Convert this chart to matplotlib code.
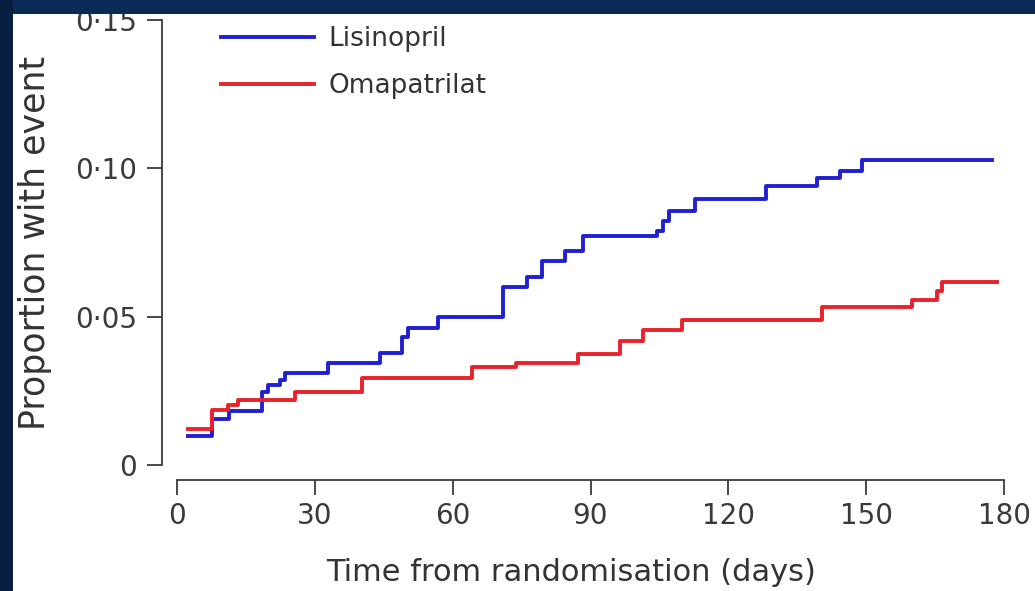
import matplotlib
matplotlib.use("Agg")
import matplotlib.pyplot as plt
from matplotlib.patches import Rectangle

# Kaplan-Meier style step data (days, proportion with event)
lis_days = [2.4, 7.6, 11.3, 18.5, 19.8, 22.4, 23.5, 32.9, 44.2, 49.0, 50.3, 56.8,
            71.0, 76.2, 79.5, 84.5, 88.4, 104.5, 105.8, 107.0, 112.8, 128.2,
            139.3, 144.3, 149.1, 177.4]
lis_prop = [0.0098, 0.0154, 0.0183, 0.0245, 0.0268, 0.0288, 0.0310, 0.0343, 0.0376,
            0.0431, 0.0461, 0.0500, 0.0599, 0.0633, 0.0687, 0.0721, 0.0772, 0.0789,
            0.0823, 0.0857, 0.0895, 0.0939, 0.0966, 0.0990, 0.1028, 0.1028]

oma_days = [2.4, 7.6, 11.1, 13.3, 25.7, 40.3, 64.2, 73.8, 87.3, 96.4, 101.4, 109.9,
            140.4, 160.0, 165.4, 166.6, 178.5]
oma_prop = [0.0121, 0.0186, 0.0203, 0.0219, 0.0245, 0.0294, 0.0330, 0.0343, 0.0373,
            0.0418, 0.0454, 0.0490, 0.0531, 0.0555, 0.0585, 0.0616, 0.0616]

x_ticks = [0, 30, 60, 90, 120, 150, 180]
y_ticks = [0, 0.05, 0.10, 0.15]
y_tick_labels = ['0', '0·05', '0·10', '0·15']

plt.rcParams['font.family'] = ['DejaVu Sans']

fig = plt.figure(figsize=(10.35, 5.91), dpi=100, facecolor='white')
# dark slide border (top and left strips)
fig.patches.append(Rectangle((0, (591 - 14) / 591), 1, 14 / 591,
                             transform=fig.transFigure, facecolor='#0b2b57', edgecolor='none'))
fig.patches.append(Rectangle((0, 0), 13 / 1035, 1,
                             transform=fig.transFigure, facecolor='#071f40', edgecolor='none'))

ax = fig.add_axes([177 / 1035, (591 - 465) / 591, (1004 - 177) / 1035, (465 - 20) / 591])
ax.set_facecolor('none')

ax.step(lis_days, lis_prop, where='post', color='#2020d2', lw=2.8, label='Lisinopril')
ax.step(oma_days, oma_prop, where='post', color='#e8222a', lw=2.8, label='Omapatrilat')

ax.set_xlim(0, 180)
ax.set_ylim(0, 0.15)
ax.set_xticks(x_ticks)
ax.set_yticks(y_ticks)
ax.set_yticklabels(y_tick_labels)

for s in ['top', 'right']:
    ax.spines[s].set_visible(False)
ax.spines['left'].set_position(('outward', 11))
ax.spines['bottom'].set_position(('outward', 11))
for s in ['left', 'bottom']:
    ax.spines[s].set_color('#3a3a3a')
    ax.spines[s].set_linewidth(1.3)

ax.tick_params(axis='both', length=11, width=1.3, color='#3a3a3a',
               labelsize=20, labelcolor='#3a3a3a')
ax.tick_params(axis='y', pad=7)
ax.tick_params(axis='x', pad=5)

ax.set_xlabel('Time from randomisation (days)', fontsize=22, color='#333333', labelpad=20)
ax.xaxis.label.set_x(0.476)
ax.set_ylabel('Proportion with event', fontsize=25, color='#333333', labelpad=16)

leg = ax.legend(loc='upper left', bbox_to_anchor=(0.025, 1.04), frameon=False,
                fontsize=19, handlelength=3.5, handletextpad=0.55, labelspacing=0.8)
for t in leg.get_texts():
    t.set_color('#333333')

fig.savefig('out.png', dpi=100, facecolor=fig.get_facecolor())
